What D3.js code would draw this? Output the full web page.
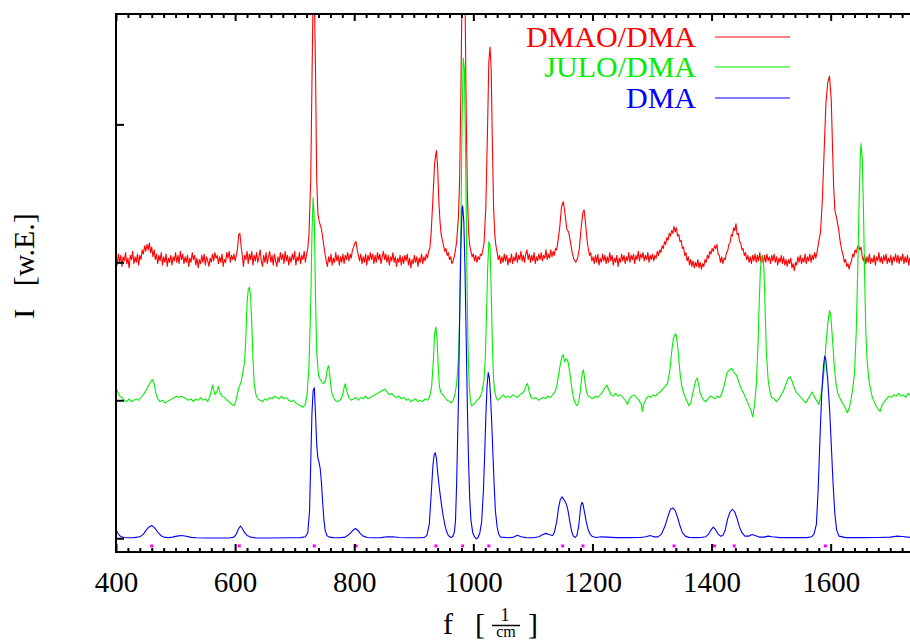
<!DOCTYPE html>
<html><head><meta charset="utf-8">
<script src="https://cdn.jsdelivr.net/npm/d3@7"></script>
<style>
html,body{margin:0;padding:0;background:#fff;overflow:hidden}
svg{display:block}
text{font-family:"Liberation Serif","Times New Roman",serif}
</style></head><body>
<script>
// ---------- data ----------
const seriesNames = ["DMAO/DMA", "JULO/DMA", "DMA"];
const seriesColors = ["#ff0000", "#00ee00", "#0000ff"];
const xTickValues = [400, 600, 800, 1000, 1200, 1400, 1600];
const xTickLabels = ["400", "600", "800", "1000", "1200", "1400", "1600"];
const yTickValues = [0, 1, 2, 3];
const peakMarkers = [460, 607, 733, 803, 937, 982, 1026, 1150, 1184, 1337, 1405, 1438, 1591];

const dmaoSpec = [
[400,2.03],[402,1.98],[404,2.06],[406,2.00],[408,2.05],[410,1.97],[412,2.04],[414,2.01],[416,2.07],[418,1.99],
[420,2.03],[422,1.96],[424,2.05],[426,2.02],[428,2.08],[430,1.99],[432,2.04],[434,2.00],[436,2.06],[438,1.98],
[440,2.05],[442,2.02],[444,2.09],[446,2.06],[448,2.12],[450,2.08],[452,2.13],[454,2.09],[456,2.14],[458,2.07],
[460,2.11],[462,2.04],[464,2.09],[466,2.02],[468,2.06],[470,1.99],[472,2.05],[474,2.01],[476,2.07],[478,1.98],
[480,2.04],[482,2.00],[484,2.06],[486,1.97],[488,2.03],[490,2.00],[492,2.05],[494,1.98],[496,2.04],[498,2.01],
[500,2.07],[502,2.00],[504,2.05],[506,1.99],[508,2.08],[510,2.02],[512,2.06],[514,1.99],[516,2.04],[518,2.00],
[520,2.05],[522,1.97],[524,2.03],[526,2.00],[528,2.07],[530,2.02],[532,2.05],[534,1.98],[536,2.03],[538,1.96],
[540,2.02],[542,1.99],[544,2.05],[546,2.00],[548,2.06],[550,1.98],[552,2.04],[554,2.01],[556,1.97],[558,2.03],
[560,2.00],[562,2.06],[564,2.01],[566,2.07],[568,2.03],[570,2.05],[572,1.99],[574,2.04],[576,2.00],[578,2.06],
[580,1.97],[582,2.02],[584,2.00],[586,2.07],[588,2.03],[590,2.08],[592,2.00],[594,2.05],[596,2.02],[598,2.06],
[600,2.01],[602,2.05],[604,2.10],[606,2.20],[608,2.21],[610,2.12],[612,2.05],[614,1.97],[616,2.05],[618,2.02],
[620,2.08],[622,1.99],[624,2.06],[626,2.02],[628,2.08],[630,1.98],[632,2.05],[634,2.01],[636,2.07],[638,2.00],
[640,2.04],[642,2.09],[644,2.01],[646,1.97],[648,2.05],[650,2.00],[652,2.07],[654,1.99],[656,2.04],[658,2.08],
[660,2.00],[662,2.05],[664,1.98],[666,2.06],[668,2.01],[670,1.97],[672,2.04],[674,2.00],[676,2.07],[678,2.02],
[680,2.06],[682,1.99],[684,2.08],[686,2.01],[688,2.05],[690,1.98],[692,2.04],[694,2.00],[696,2.06],[698,2.02],
[700,2.08],[702,1.98],[704,2.04],[706,2.01],[708,2.07],[710,1.99],[712,2.05],[714,2.02],[716,2.08],[718,2.00],
[720,2.06],[722,2.10],[724,2.20],[727,2.60],[729,3.30],[731,3.95],[733,3.95],[735,3.40],[737,2.60],[739,2.35],
[741,2.30],[743,2.27],[745,2.24],[747,2.18],[749,2.12],[751,2.06],[753,2.01],[755,1.97],[757,2.04],[759,2.00],
[761,2.06],[763,1.98],[765,2.03],[767,2.00],[769,2.07],[771,2.01],[773,2.05],[775,1.98],[777,2.04],[779,2.00],
[781,2.06],[783,1.99],[785,2.05],[787,2.02],[789,2.07],[791,2.01],[793,2.06],[795,2.03],[797,2.09],[799,2.11],
[801,2.14],[803,2.15],[805,2.09],[807,2.05],[809,2.01],[811,2.06],[813,1.99],[815,2.04],[817,2.00],[819,2.06],
[821,1.98],[823,2.05],[825,2.01],[827,2.07],[829,2.02],[831,2.06],[833,1.99],[835,2.05],[837,2.00],[839,2.07],
[841,2.02],[843,2.06],[845,1.99],[847,2.04],[849,2.08],[851,2.02],[853,2.06],[855,2.00],[857,2.05],[859,1.98],
[861,2.04],[863,2.01],[865,2.07],[867,2.00],[869,2.04],[871,1.97],[873,2.03],[875,2.00],[877,2.05],[879,1.98],
[881,2.04],[883,1.99],[885,2.05],[887,2.01],[889,2.06],[891,1.98],[893,2.03],[895,1.96],[897,2.02],[899,1.99],
[901,2.05],[903,2.00],[905,2.04],[907,1.97],[909,2.03],[911,2.00],[913,2.06],[915,1.99],[917,2.04],[919,2.01],
[921,2.06],[923,2.03],[925,2.08],[927,2.10],[929,2.20],[932,2.45],[935,2.72],[938,2.81],[940,2.70],[942,2.45],
[944,2.30],[946,2.20],[948,2.16],[950,2.12],[952,2.08],[954,2.10],[956,2.05],[958,2.07],[960,2.02],[962,2.04],
[964,1.99],[966,2.01],[968,2.04],[970,2.09],[972,2.15],[975,2.33],[977,2.60],[979,3.20],[981,3.95],[986,3.95],
[988,3.10],[990,2.50],[992,2.22],[994,2.12],[996,2.08],[998,2.04],[1000,2.06],[1002,2.01],[1004,2.05],[1006,2.00],
[1008,2.04],[1010,2.02],[1012,2.06],[1014,2.05],[1016,2.09],[1018,2.14],[1021,2.40],[1024,3.00],[1026,3.45],[1028,3.56],
[1030,3.40],[1032,2.85],[1034,2.40],[1036,2.20],[1038,2.12],[1040,2.07],[1042,2.02],[1044,2.05],[1046,1.99],[1048,2.04],
[1050,2.00],[1052,2.06],[1054,2.01],[1056,2.05],[1058,1.98],[1060,2.03],[1062,2.00],[1064,2.06],[1066,1.99],[1068,2.04],
[1070,2.01],[1072,2.07],[1074,2.00],[1076,2.05],[1078,2.02],[1080,2.08],[1082,2.01],[1084,2.05],[1086,2.00],[1088,2.06],
[1090,2.09],[1092,2.02],[1094,2.06],[1096,2.00],[1098,2.05],[1100,2.01],[1102,2.07],[1104,1.99],[1106,2.04],[1108,2.01],
[1110,2.06],[1112,2.02],[1114,2.07],[1116,2.01],[1118,2.05],[1120,2.03],[1122,2.09],[1124,2.02],[1126,2.06],[1128,2.03],
[1130,2.09],[1132,2.04],[1134,2.08],[1136,2.05],[1138,2.10],[1140,2.09],[1142,2.15],[1145,2.25],[1148,2.40],[1151,2.44],
[1154,2.35],[1157,2.24],[1160,2.22],[1163,2.15],[1166,2.07],[1169,2.02],[1172,2.00],[1175,2.03],[1178,2.10],[1181,2.25],
[1184,2.36],[1186,2.38],[1188,2.30],[1191,2.16],[1193,2.10],[1195,2.05],[1197,2.07],[1199,2.01],[1201,2.04],[1203,1.99],
[1205,2.05],[1207,2.00],[1209,2.06],[1211,1.98],[1213,2.03],[1215,2.00],[1217,2.06],[1219,2.01],[1221,2.05],[1223,1.99],
[1225,2.04],[1227,2.00],[1229,2.07],[1231,2.01],[1233,2.05],[1235,1.98],[1237,2.03],[1239,2.00],[1241,2.05],[1243,1.97],
[1245,2.03],[1247,2.00],[1249,2.06],[1251,2.01],[1253,2.05],[1255,1.99],[1257,2.04],[1259,2.01],[1261,2.07],[1263,2.00],
[1265,2.05],[1267,2.02],[1269,2.06],[1271,1.99],[1273,2.05],[1275,2.02],[1277,2.08],[1279,2.01],[1281,2.06],[1283,2.03],
[1285,2.07],[1287,2.01],[1289,2.05],[1291,2.02],[1293,2.07],[1295,2.00],[1297,2.05],[1299,2.02],[1301,2.06],[1303,2.01],
[1305,2.05],[1307,2.03],[1309,2.08],[1311,2.05],[1313,2.09],[1315,2.07],[1317,2.12],[1319,2.10],[1321,2.15],[1323,2.13],
[1325,2.18],[1327,2.16],[1329,2.21],[1331,2.19],[1333,2.23],[1335,2.21],[1337,2.26],[1339,2.22],[1341,2.25],[1343,2.19],
[1345,2.20],[1347,2.15],[1349,2.16],[1351,2.10],[1353,2.11],[1355,2.05],[1357,2.07],[1359,2.01],[1361,2.04],[1363,1.98],
[1365,2.02],[1367,1.97],[1369,2.01],[1371,1.96],[1373,2.00],[1375,1.97],[1377,2.02],[1379,1.96],[1381,2.00],[1383,1.95],
[1385,1.99],[1387,1.97],[1389,2.02],[1391,2.00],[1393,2.05],[1395,2.03],[1397,2.08],[1399,2.06],[1401,2.10],[1403,2.08],
[1405,2.12],[1407,2.10],[1409,2.13],[1411,2.06],[1413,2.05],[1415,2.00],[1417,2.04],[1419,1.99],[1421,2.03],[1423,2.02],
[1425,2.07],[1427,2.08],[1429,2.13],[1431,2.14],[1433,2.20],[1435,2.19],[1437,2.25],[1439,2.23],[1441,2.28],[1443,2.20],
[1445,2.21],[1447,2.15],[1449,2.14],[1451,2.09],[1453,2.10],[1455,2.05],[1457,2.07],[1459,2.02],[1461,2.05],[1463,2.00],
[1465,2.04],[1467,1.99],[1469,2.05],[1471,2.01],[1473,2.06],[1475,2.00],[1477,2.05],[1479,2.01],[1481,2.07],[1483,2.00],
[1485,2.04],[1487,1.99],[1489,2.05],[1491,2.00],[1493,2.06],[1495,2.01],[1497,2.04],[1499,1.99],[1501,2.05],[1503,2.01],
[1505,2.06],[1507,2.00],[1509,2.04],[1511,1.98],[1513,2.03],[1515,2.00],[1517,2.05],[1519,1.99],[1521,2.04],[1523,1.98],
[1525,2.02],[1527,1.97],[1529,2.02],[1531,1.99],[1533,2.03],[1535,1.96],[1537,1.99],[1539,1.94],[1541,2.00],[1543,1.98],
[1545,2.04],[1547,2.00],[1549,2.05],[1551,1.99],[1553,2.03],[1555,2.00],[1557,2.06],[1559,1.99],[1561,2.04],[1563,2.01],
[1565,2.06],[1567,2.00],[1569,2.05],[1571,2.02],[1573,2.07],[1575,2.03],[1577,2.07],[1580,2.15],[1583,2.22],[1586,2.45],
[1589,2.80],[1592,3.15],[1595,3.30],[1598,3.35],[1601,3.18],[1603,2.85],[1605,2.55],[1607,2.38],[1610,2.32],[1613,2.25],
[1616,2.15],[1619,2.08],[1621,2.05],[1623,2.00],[1625,2.02],[1627,1.97],[1629,1.99],[1631,1.95],[1633,1.99],[1635,2.01],
[1637,2.06],[1639,2.04],[1641,2.09],[1643,2.07],[1645,2.11],[1647,2.12],[1649,2.09],[1651,2.11],[1653,2.04],[1655,2.01],
[1657,2.05],[1659,1.99],[1661,2.04],[1663,2.00],[1665,2.06],[1667,1.99],[1669,2.03],[1671,2.00],[1673,2.05],[1675,1.98],
[1677,2.04],[1679,2.01],[1681,2.07],[1683,2.00],[1685,2.04],[1687,1.99],[1689,2.05],[1691,2.01],[1693,2.06],[1695,1.99],
[1697,2.03],[1699,2.00],[1701,2.05],[1703,1.98],[1705,2.04],[1707,2.01],[1709,2.06],[1711,2.00],[1713,2.05],[1715,1.99],
[1717,2.04],[1719,2.01],[1721,2.06],[1723,1.99],[1725,2.04],[1727,2.00],[1729,2.05],[1731,1.98],[1733,2.03],[1735,2.00],
[1737,2.06],[1739,2.01],[1741,2.05],[1743,1.99],[1745,2.04],[1747,2.00],[1750,2.03]
];

const juloSpec = [
[400,1.09],[403,1.06],[406,1.03],[410,1.02],[414,1.00],[418,0.99],[422,1.01],[426,0.99],[430,1.00],[434,1.01],
[438,1.00],[442,1.02],[446,1.04],[450,1.07],[454,1.10],[458,1.13],[461,1.15],[464,1.12],[467,1.05],[470,1.01],
[474,0.99],[478,1.00],[482,0.98],[486,0.99],[490,1.00],[494,1.01],[498,1.02],[502,1.03],[506,1.02],[510,1.03],
[514,1.02],[518,1.01],[522,1.00],[526,1.01],[530,0.99],[534,1.01],[538,1.00],[542,1.02],[546,1.00],[550,1.01],
[554,0.99],[558,1.03],[562,1.11],[566,1.04],[569,1.06],[572,1.10],[575,1.05],[578,1.03],[582,1.02],[586,1.00],
[590,0.99],[594,0.97],[598,0.96],[601,0.99],[604,1.05],[607,1.10],[610,1.13],[613,1.20],[616,1.28],[618,1.45],
[620,1.70],[622,1.80],[624,1.82],[626,1.75],[628,1.55],[630,1.30],[632,1.12],[635,1.04],[638,1.01],[642,1.00],
[646,0.99],[650,1.01],[654,1.00],[658,1.02],[662,1.01],[666,1.03],[670,1.02],[674,1.01],[678,1.03],[682,1.01],
[686,1.02],[690,1.00],[694,0.99],[698,1.00],[702,0.98],[706,0.97],[710,0.96],[714,0.95],[718,0.97],[721,1.05],
[724,1.25],[727,1.70],[729,2.20],[731,2.47],[733,2.30],[735,1.75],[737,1.35],[740,1.18],[743,1.15],[746,1.13],
[749,1.12],[752,1.15],[755,1.23],[757,1.25],[759,1.18],[762,1.06],[765,1.02],[768,1.00],[772,0.99],[776,1.00],
[780,1.03],[783,1.09],[785,1.12],[788,1.06],[791,1.02],[795,1.00],[799,1.01],[803,1.02],[807,1.00],[811,1.02],
[815,1.01],[819,1.03],[823,1.01],[827,1.02],[831,1.03],[835,1.04],[839,1.05],[843,1.06],[847,1.07],[851,1.08],
[855,1.06],[859,1.04],[863,1.05],[867,1.03],[871,1.02],[875,1.03],[879,1.01],[883,1.02],[887,1.00],[891,1.01],
[895,0.99],[899,1.00],[903,1.01],[907,0.99],[911,1.00],[915,0.99],[919,1.01],[923,1.00],[927,1.03],[930,1.10],
[933,1.30],[935,1.48],[937,1.53],[939,1.45],[941,1.25],[943,1.10],[946,1.05],[949,1.04],[952,1.02],[956,1.00],
[960,0.99],[963,0.98],[966,1.00],[969,1.04],[972,1.12],[975,1.30],[977,1.60],[979,2.20],[981,3.00],[983,3.48],
[985,3.40],[987,2.80],[989,2.00],[991,1.40],[993,1.12],[995,1.00],[997,0.96],[1000,0.97],[1003,0.98],[1006,1.00],
[1009,1.01],[1012,1.03],[1015,1.07],[1018,1.15],[1020,1.30],[1022,1.60],[1024,1.95],[1026,2.15],[1028,2.12],[1030,1.80],
[1032,1.40],[1034,1.15],[1036,1.06],[1039,1.01],[1042,1.00],[1046,1.02],[1050,1.04],[1054,1.02],[1058,1.03],[1062,1.02],
[1066,1.04],[1070,1.03],[1074,1.02],[1078,1.04],[1082,1.05],[1086,1.07],[1089,1.11],[1091,1.12],[1094,1.06],[1097,1.02],
[1101,1.01],[1105,1.02],[1109,1.00],[1113,1.01],[1117,1.02],[1121,1.01],[1125,1.03],[1129,1.02],[1133,1.04],[1137,1.06],
[1140,1.10],[1143,1.18],[1146,1.26],[1149,1.32],[1151,1.33],[1153,1.28],[1156,1.30],[1159,1.28],[1162,1.20],[1165,1.10],
[1168,1.02],[1171,0.98],[1174,0.96],[1177,0.99],[1180,1.08],[1183,1.20],[1185,1.22],[1187,1.15],[1190,1.06],[1193,1.03],
[1197,1.02],[1201,1.01],[1205,1.03],[1209,1.02],[1213,1.04],[1217,1.06],[1221,1.09],[1224,1.11],[1227,1.08],[1231,1.04],
[1235,1.03],[1239,1.05],[1243,1.03],[1247,1.04],[1251,1.02],[1255,1.00],[1259,0.97],[1262,1.01],[1266,1.03],[1270,1.04],
[1274,1.02],[1278,1.00],[1282,0.97],[1284,0.92],[1286,0.97],[1290,1.01],[1294,1.03],[1298,1.02],[1302,1.04],[1306,1.03],
[1310,1.05],[1314,1.06],[1318,1.08],[1322,1.10],[1326,1.12],[1330,1.22],[1333,1.35],[1336,1.45],[1339,1.48],[1341,1.47],
[1344,1.35],[1347,1.20],[1350,1.10],[1354,1.04],[1358,1.00],[1362,0.96],[1365,0.98],[1368,1.04],[1371,1.10],[1374,1.15],
[1376,1.16],[1378,1.12],[1381,1.05],[1384,1.02],[1387,1.00],[1390,0.99],[1394,1.01],[1398,1.03],[1402,1.02],[1406,1.01],
[1410,1.03],[1414,1.02],[1418,1.06],[1422,1.12],[1426,1.20],[1430,1.22],[1434,1.23],[1438,1.20],[1442,1.18],[1446,1.13],
[1450,1.08],[1454,1.05],[1458,1.01],[1462,0.97],[1466,0.93],[1469,0.88],[1472,0.96],[1475,1.10],[1478,1.40],[1480,1.70],
[1482,1.95],[1484,2.04],[1486,2.05],[1488,1.95],[1490,1.65],[1492,1.35],[1495,1.15],[1498,1.06],[1501,1.02],[1505,1.01],
[1509,0.99],[1513,1.01],[1517,1.04],[1521,1.07],[1525,1.12],[1529,1.16],[1532,1.17],[1535,1.14],[1538,1.10],[1542,1.06],
[1546,1.04],[1550,1.02],[1554,1.00],[1558,0.98],[1562,1.01],[1566,1.04],[1569,1.06],[1572,1.03],[1576,1.00],[1580,0.97],
[1583,1.02],[1586,1.10],[1589,1.22],[1592,1.40],[1595,1.55],[1598,1.65],[1600,1.62],[1603,1.45],[1606,1.25],[1609,1.12],
[1612,1.05],[1616,1.01],[1620,0.98],[1624,0.95],[1628,0.91],[1631,0.94],[1634,1.00],[1637,1.08],[1640,1.20],[1643,1.50],
[1646,2.05],[1648,2.50],[1650,2.80],[1651,2.86],[1653,2.75],[1655,2.40],[1657,1.90],[1659,1.50],[1661,1.30],[1664,1.15],
[1667,1.08],[1670,1.02],[1673,0.99],[1676,0.96],[1679,0.94],[1683,0.92],[1686,0.96],[1690,0.99],[1694,1.01],[1698,1.03],
[1702,1.02],[1706,1.04],[1710,1.03],[1714,1.05],[1718,1.03],[1722,1.04],[1726,1.02],[1730,1.05],[1735,1.03],[1740,1.04],
[1745,1.02],[1750,1.04]
];

const dmaSpec = [
[400,0.06],[404,0.03],[408,0.012],[414,0.005],[420,0.003],[430,0.004],[440,0.01],[446,0.03],[450,0.055],[455,0.08],
[460,0.092],[465,0.075],[470,0.045],[475,0.02],[480,0.008],[488,0.004],[495,0.008],[502,0.015],[510,0.02],[518,0.014],
[526,0.006],[535,0.003],[550,0.002],[570,0.002],[590,0.002],[598,0.008],[602,0.03],[606,0.07],[609,0.088],[612,0.07],
[616,0.04],[620,0.02],[626,0.008],[635,0.002],[660,0.002],[690,0.003],[710,0.004],[718,0.01],[722,0.04],[725,0.20],
[727,0.55],[729,0.90],[731,1.07],[733,1.09],[735,0.90],[737,0.68],[739,0.58],[741,0.55],[743,0.50],[745,0.40],
[747,0.26],[749,0.14],[751,0.06],[754,0.02],[758,0.008],[765,0.004],[775,0.003],[785,0.008],[792,0.03],[798,0.058],
[802,0.07],[806,0.058],[810,0.035],[815,0.015],[822,0.005],[830,0.003],[845,0.004],[855,0.01],[865,0.01],[875,0.005],
[890,0.003],[910,0.003],[918,0.006],[922,0.02],[926,0.10],[929,0.30],[932,0.52],[934,0.60],[936,0.62],[938,0.58],
[940,0.48],[943,0.36],[946,0.26],[949,0.17],[952,0.10],[955,0.05],[958,0.02],[962,0.005],[965,0.01],[968,0.04],
[970,0.12],[972,0.40],[975,1.00],[977,1.60],[979,2.10],[981,2.38],[982,2.41],[984,2.30],[986,1.95],[988,1.45],
[990,0.95],[992,0.55],[994,0.28],[996,0.13],[999,0.04],[1002,0.01],[1005,-0.005],[1008,0.005],[1011,0.04],[1014,0.12],
[1017,0.35],[1019,0.60],[1021,0.88],[1023,1.10],[1025,1.20],[1027,1.16],[1029,1.02],[1031,0.82],[1033,0.60],[1035,0.38],
[1037,0.20],[1040,0.08],[1043,0.025],[1046,0.008],[1060,0.003],[1068,0.008],[1074,0.022],[1080,0.01],[1088,0.004],[1100,0.003],
[1110,0.01],[1116,0.025],[1122,0.035],[1128,0.025],[1133,0.02],[1136,0.04],[1140,0.12],[1143,0.22],[1146,0.28],[1149,0.30],
[1152,0.28],[1156,0.25],[1159,0.20],[1162,0.12],[1165,0.05],[1168,0.015],[1171,0.005],[1174,0.02],[1177,0.09],[1180,0.22],
[1182,0.26],[1184,0.25],[1187,0.18],[1190,0.11],[1193,0.06],[1196,0.03],[1200,0.012],[1206,0.005],[1215,0.01],[1225,0.008],
[1240,0.004],[1260,0.004],[1280,0.005],[1290,0.01],[1297,0.02],[1303,0.01],[1310,0.01],[1316,0.03],[1322,0.09],[1327,0.16],
[1331,0.21],[1335,0.22],[1339,0.20],[1343,0.15],[1347,0.09],[1351,0.04],[1356,0.015],[1362,0.006],[1372,0.004],[1382,0.005],
[1390,0.01],[1395,0.03],[1399,0.06],[1403,0.08],[1407,0.06],[1411,0.03],[1415,0.015],[1419,0.02],[1423,0.06],[1427,0.14],
[1431,0.19],[1435,0.21],[1439,0.19],[1443,0.14],[1447,0.08],[1451,0.04],[1456,0.015],[1462,0.015],[1468,0.027],[1473,0.02],
[1480,0.008],[1488,0.008],[1495,0.015],[1502,0.01],[1515,0.004],[1540,0.004],[1560,0.004],[1568,0.01],[1572,0.03],[1576,0.10],
[1579,0.35],[1582,0.72],[1585,1.05],[1588,1.25],[1590,1.32],[1592,1.29],[1595,1.15],[1598,0.95],[1601,0.68],[1604,0.40],
[1607,0.18],[1610,0.06],[1614,0.015],[1625,0.004],[1650,0.004],[1680,0.005],[1700,0.008],[1712,0.015],[1720,0.012],[1735,0.005],
[1750,0.004]
];

const allSeries = [dmaoSpec, juloSpec, dmaSpec];

// ---------- layout ----------
const W = 910, H = 641;
const plotLeft = 116, plotTop = 14, plotBottom = 552, plotRight = 920;

const svg = d3.select("body").append("svg").attr("width", W).attr("height", H);

const x = d3.scaleLinear().domain([400, 1750]).range([plotLeft, plotRight]);
const y = d3.scaleLinear().domain([-0.1, 3.8]).range([plotBottom, plotTop]);

svg.append("defs").append("clipPath").attr("id", "plotclip")
  .append("rect").attr("x", plotLeft).attr("y", plotTop)
  .attr("width", plotRight - plotLeft).attr("height", plotBottom - plotTop);

const line = d3.line().x(d => x(d[0])).y(d => y(d[1]));

const plot = svg.append("g").attr("clip-path", "url(#plotclip)");
allSeries.forEach((s, i) => {
  plot.append("path").datum(s)
    .attr("d", line)
    .attr("fill", "none")
    .attr("stroke", seriesColors[i])
    .attr("stroke-width", 1.1)
    .attr("stroke-linejoin", "round");
});

// peak markers
plot.selectAll("rect.mk").data(peakMarkers).enter().append("rect")
  .attr("class", "mk")
  .attr("x", d => x(d) - 1.5).attr("y", y(-0.056) - 1.5)
  .attr("width", 3).attr("height", 3)
  .attr("fill", "#ff00ff");

// ---------- axes ----------
const minorTicks = d3.range(400, 1760, 20).filter(v => v % 200 !== 0);

function styleAxis(g) {
  g.select(".domain").remove();
  g.selectAll(".tick line").attr("stroke", "#000").attr("stroke-width", 2);
}

const gb = svg.append("g").attr("transform", `translate(0,${plotBottom})`)
  .call(d3.axisBottom(x).tickValues(xTickValues).tickSize(-8).tickPadding(0)
    .tickFormat((d, i) => xTickLabels[i]));
styleAxis(gb);
gb.selectAll(".tick text").attr("fill", "#000").attr("font-size", 29)
  .attr("font-family", "Liberation Serif, serif").attr("dy", null).attr("y", 40);
const gbm = svg.append("g").attr("transform", `translate(0,${plotBottom})`)
  .call(d3.axisBottom(x).tickValues(minorTicks).tickSize(-4).tickFormat(""));
styleAxis(gbm);

const gt = svg.append("g").attr("transform", `translate(0,${plotTop})`)
  .call(d3.axisTop(x).tickValues(xTickValues).tickSize(-7).tickFormat(""));
styleAxis(gt);
const gtm = svg.append("g").attr("transform", `translate(0,${plotTop})`)
  .call(d3.axisTop(x).tickValues(minorTicks).tickSize(-4).tickFormat(""));
styleAxis(gtm);

const gl = svg.append("g").attr("transform", `translate(${plotLeft},0)`)
  .call(d3.axisLeft(y).tickValues(yTickValues).tickSize(-8).tickFormat(""));
styleAxis(gl);

svg.append("line").attr("x1", plotLeft).attr("x2", W).attr("y1", plotBottom).attr("y2", plotBottom)
  .attr("stroke", "#000").attr("stroke-width", 2);
svg.append("line").attr("x1", plotLeft).attr("x2", W).attr("y1", plotTop).attr("y2", plotTop)
  .attr("stroke", "#000").attr("stroke-width", 2);
svg.append("line").attr("x1", plotLeft).attr("x2", plotLeft).attr("y1", plotTop - 1).attr("y2", plotBottom + 1)
  .attr("stroke", "#000").attr("stroke-width", 2);

// ---------- legend ----------
const legendY = [37, 67, 98];
seriesNames.forEach((n, i) => {
  svg.append("text").attr("x", 696).attr("y", legendY[i] + 10)
    .attr("text-anchor", "end").attr("font-size", 30).attr("fill", seriesColors[i]).text(n);
  svg.append("line").attr("x1", 715).attr("x2", 790).attr("y1", legendY[i]).attr("y2", legendY[i])
    .attr("stroke", seriesColors[i]).attr("stroke-width", 1.2);
});

// ---------- axis titles ----------
svg.append("text").attr("transform", "translate(34,266) rotate(-90)")
  .attr("text-anchor", "middle").attr("font-size", 30).attr("fill", "#000")
  .attr("xml:space", "preserve").text("I   [w.E.]");

const xt = svg.append("g").attr("fill", "#000");
xt.append("text").attr("x", 448).attr("y", 634).attr("text-anchor", "middle").attr("font-size", 30).text("f");
xt.append("text").attr("x", 480).attr("y", 634).attr("text-anchor", "middle").attr("font-size", 30).text("[");
xt.append("text").attr("x", 533).attr("y", 634).attr("text-anchor", "middle").attr("font-size", 30).text("]");
xt.append("text").attr("x", 505).attr("y", 621).attr("text-anchor", "middle").attr("font-size", 18).text("1");
xt.append("line").attr("x1", 492).attr("x2", 520).attr("y1", 625.5).attr("y2", 625.5)
  .attr("stroke", "#000").attr("stroke-width", 1.5);
xt.append("text").attr("x", 506).attr("y", 637).attr("text-anchor", "middle").attr("font-size", 16).text("cm");
</script>
</body></html>
